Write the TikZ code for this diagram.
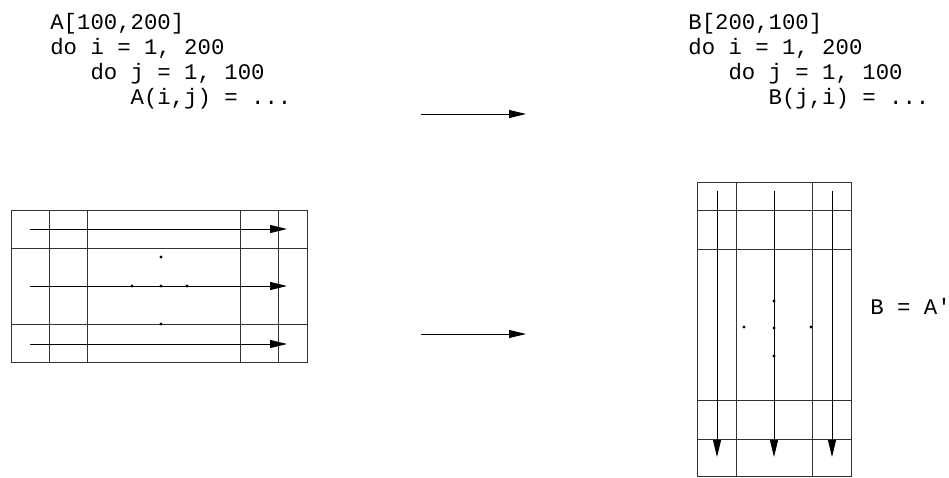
\documentclass[tikz,border=0pt]{standalone}
\usepackage{fontspec}
\newfontfamily\codefont{Liberation Mono}
\usetikzlibrary{arrows.meta,positioning}

\begin{document}
\begin{tikzpicture}[
  x=0.02cm,y=-0.02cm,
  grid/.style={draw=black!80,line width=0.5pt},
  arrow/.style={-{Triangle[length=0.34cm,width=0.16cm]},line width=0.5pt},
  code/.style={font=\codefont\fontsize{12.7}{14.2}\selectfont,align=left,inner sep=0pt,anchor=base west}
]
  \useasboundingbox (0,0) rectangle (949,477);

  % loop code (base = last line)
  \node[code] (codeA) at (50,104) {A[100,200]\\do i = 1, 200\\\hspace*{1.8em}do j = 1, 100\\\hspace*{3.6em}A(i,j) = ...};
  \node[code] (codeB) at (688,104) {B[200,100]\\do i = 1, 200\\\hspace*{1.8em}do j = 1, 100\\\hspace*{3.6em}B(j,i) = ...};
  \node[code] (trans) at (870,314) {B = A'};

  % transformation arrows
  \coordinate (codeL) at (421,114);
  \coordinate (codeR) at (526,114);
  \coordinate (gridL) at (421,334);
  \coordinate (gridR) at (526,334);
  \draw[arrow] (codeL) -- (codeR);
  \draw[arrow] (gridL) -- (gridR);

  % array A, row order
  \draw[grid] (11,210) rectangle (307,362);
  \foreach \x in {49,87,240,278}
    \draw[grid] (\x,210) -- (\x,362);
  \foreach \y in {248,324}
    \draw[grid] (11,\y) -- (307,\y);
  \foreach \y in {229,286,344}
    \draw[arrow] (30,\y) -- (287,\y);
  \foreach \p in {(161,257),(132,286),(161,286),(187,286),(161,324)}
    \fill \p circle (1.6);

  % array B, column order
  \draw[grid] (697,182) rectangle (851,476);
  \foreach \x in {736,812}
    \draw[grid] (\x,182) -- (\x,476);
  \foreach \y in {210,249,400,439}
    \draw[grid] (697,\y) -- (851,\y);
  \foreach \x in {717,774,832}
    \draw[arrow] (\x,191) -- (\x,457);
  \foreach \p in {(774,301),(744,327),(774,328),(811,327),(774,356)}
    \fill \p circle (1.6);
\end{tikzpicture}
\end{document}
